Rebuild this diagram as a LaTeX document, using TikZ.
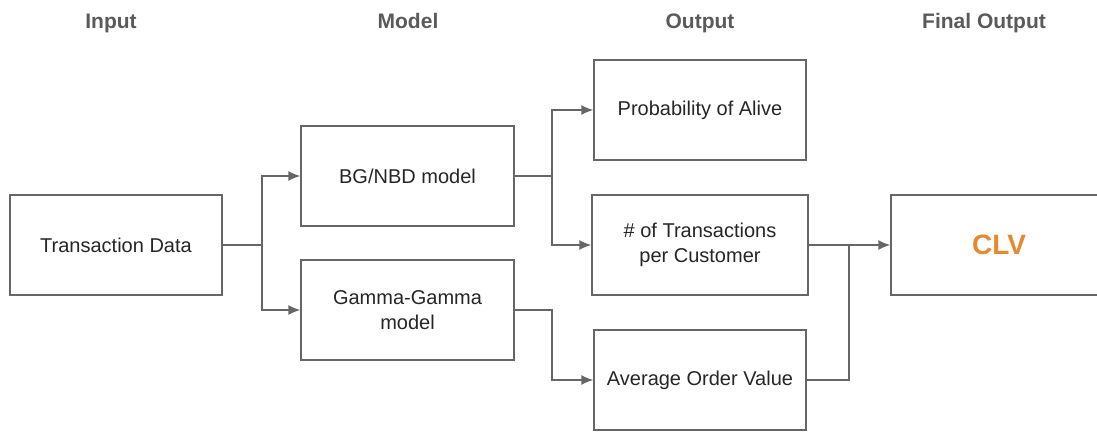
\documentclass[tikz,border=0pt]{standalone}
\usepackage{fontspec}
\setsansfont{Liberation Sans}
\usepackage{tikz}
\usetikzlibrary{arrows.meta,calc,positioning}
\definecolor{LineGray}{HTML}{666666}
\definecolor{HeadGray}{HTML}{5A5A5A}
\definecolor{CLVOrange}{HTML}{E8892F}

\begin{document}
\begin{tikzpicture}[x=1pt,y=-1pt,>={Latex[length=12pt,width=10pt]},
 box/.style={draw=LineGray,line width=1.4pt,fill=white,
 minimum width=213pt,minimum height=100pt,align=center,inner sep=3pt},
 head/.style={anchor=base,font=\sffamily\bfseries\fontsize{21}{24}\selectfont,text=HeadGray},
 link/.style={draw=LineGray,line width=1.4pt},
 every node/.style={font=\sffamily\fontsize{20}{25}\selectfont,text=black!85}]
 \clip (0,0) rectangle (1097,431);
 % column titles
 \node[head] (hin) at (111,28) {Input};
 \node[head] (hmod) at (408,28) {Model};
 \node[head] (hout) at (700,28) {Output};
 \node[head] (hfin) at (984,28) {Final Output};
 % boxes
 \node[box,minimum width=212pt] (td) at (116,245) {Transaction Data};
 \node[box] (bg) at (407.5,176) {BG/NBD model};
 \node[box] (gg) at (407.5,310) {Gamma-Gamma\\model};
 \node[box,minimum width=212pt] (pa) at (700,110) {Probability of Alive};
 \node[box,minimum width=216pt] (nt) at (700,245) {\# of Transactions\\per Customer};
 \node[box,minimum width=212pt] (aov) at (700,380) {Average Order Value};
 \node[box,minimum width=216pt,
 font=\sffamily\bfseries\fontsize{28}{32}\selectfont,text=CLVOrange] (clv) at (999,245) {CLV};
 % branch points
 \coordinate (s1) at (262,245);
 \coordinate (s2) at (552,176);
 \coordinate (s3) at (552,310);
 \coordinate (s4) at (849,245);
 \draw[link] (td) -- (s1);
 \draw[link,->] (s1) |- (bg);
 \draw[link,->] (s1) |- (gg);
 \draw[link] (bg) -- (s2);
 \draw[link,->] (s2) |- (pa);
 \draw[link,->] (s2) |- (nt);
 \draw[link,->] (gg) -- (s3) |- (aov);
 \draw[link,->] (nt) -- (clv);
 \draw[link] (aov) -| (s4);
\end{tikzpicture}
\end{document}
